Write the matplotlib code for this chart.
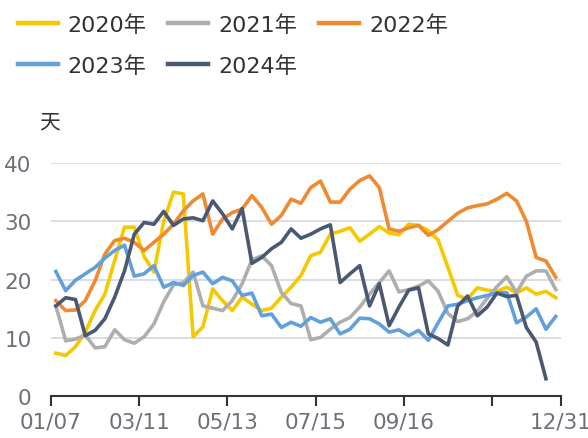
import numpy as np
import matplotlib
matplotlib.use("Agg")
import matplotlib.pyplot as plt

plt.rcParams['font.family'] = ['DejaVu Sans', 'Noto Sans CJK SC']

tick_labels = ['01/07', '03/11', '05/13', '07/15', '09/16', '', '12/31']
tick_idx = [0, 9, 18, 27, 36, 45, 52]

y2020 = [7.4, 7.0, 8.5, 11.0, 14.7, 17.5, 23.3, 29.0, 29.0, 24.0, 21.3, 30.0, 35.0, 34.7,
         10.2, 11.9, 18.4, 16.4, 14.7, 17.0, 15.8, 14.7, 15.1, 17.0, 18.7, 20.7, 24.1, 24.7,
         27.8, 28.3, 28.9, 26.6, 27.8, 29.1, 28.0, 27.7, 29.5, 29.3, 28.4, 26.8, 22.1, 17.3,
         16.7, 18.6, 18.2, 18.0, 18.7, 17.7, 18.6, 17.5, 18.0, 16.9]
y2021 = [15.5, 9.5, 9.8, 10.5, 8.3, 8.5, 11.4, 9.7, 9.1, 10.2, 12.4, 16.2, 19.1, 19.5,
         21.3, 15.5, 15.1, 14.7, 16.4, 19.3, 23.4, 24.1, 22.4, 17.8, 15.9, 15.5, 9.7, 10.1,
         11.5, 12.7, 13.5, 15.3, 17.5, 19.5, 21.5, 17.9, 18.3, 18.9, 19.8, 18.0, 14.2, 12.8,
         13.3, 14.6, 16.8, 18.8, 20.5, 17.8, 20.6, 21.5, 21.5, 18.3]
y2022 = [16.4, 14.7, 14.8, 16.4, 19.8, 24.4, 26.7, 27.1, 26.4, 25.0, 26.4, 27.8, 29.5, 31.8,
         33.5, 34.7, 27.8, 30.4, 31.5, 32.1, 34.4, 32.4, 29.5, 31.0, 33.8, 33.1, 35.8, 36.9,
         33.3, 33.3, 35.5, 37.0, 37.8, 35.8, 28.7, 28.3, 28.9, 29.3, 27.6, 28.6, 30.0, 31.4,
         32.3, 32.7, 33.0, 33.8, 34.8, 33.5, 30.0, 23.8, 23.2, 20.4]
y2023 = [21.4, 18.1, 19.9, 21.0, 22.1, 23.7, 25.0, 25.9, 20.6, 21.0, 22.4, 18.7, 19.5, 19.0,
         20.7, 21.3, 19.3, 20.4, 19.8, 17.3, 17.7, 13.8, 14.1, 11.8, 12.7, 12.0, 13.5, 12.7,
         13.3, 10.7, 11.5, 13.4, 13.3, 12.4, 11.0, 11.4, 10.4, 11.3, 9.6, 12.6, 15.5, 15.8,
         16.4, 16.9, 17.3, 17.7, 17.8, 12.6, 13.6, 15.0, 11.5, 13.7]
y2024 = [15.5, 16.9, 16.6, 10.4, 11.3, 13.3, 17.0, 21.5, 27.8, 29.8, 29.5, 31.7, 29.3, 30.4,
         30.6, 30.1, 33.5, 31.3, 28.7, 32.2, 22.8, 23.8, 25.3, 26.4, 28.7, 27.1, 27.8, 28.7,
         29.4, 19.5, 21.0, 22.4, 15.5, 19.3, 12.1, 15.3, 18.2, 18.6, 10.7, 9.9, 8.8, 15.5,
         17.2, 13.8, 15.3, 17.7, 17.1, 17.3, 11.8, 9.3, 3.0]

series = [('2020年', y2020, '#F5C800'),
          ('2021年', y2021, '#AEAEAE'),
          ('2022年', y2022, '#F08A30'),
          ('2023年', y2023, '#62A0DC'),
          ('2024年', y2024, '#4A5872')]

fig = plt.figure(figsize=(5.88, 4.39), dpi=100)
ax = fig.add_axes([0.0867, 0.095, 0.8668, 0.5314])

lines = {}
for name, vals, col in series:
    x = np.arange(len(vals)) + 0.5
    ln, = ax.plot(x, vals, color=col, lw=2.6, label=name)
    lines[name] = ln

ax.set_xlim(0, 52)
ax.set_ylim(0, 40)
ax.set_yticks([0, 10, 20, 30, 40])
ax.grid(axis='y', color='#D5D9E5', lw=1.3)
ax.set_axisbelow(True)
for s in ['left', 'right', 'top']:
    ax.spines[s].set_visible(False)
ax.spines['bottom'].set_color('#333333')
ax.spines['bottom'].set_linewidth(1.5)
ax.set_xticks(tick_idx)
ax.set_xticklabels(tick_labels)
ax.tick_params(axis='x', length=7, width=1.5, color='#333333', labelsize=15.5,
               labelcolor='#6E7079', pad=4)
ax.tick_params(axis='y', length=0, labelsize=15.5, labelcolor='#6E7079', pad=14)

fig.text(0.085, 0.722, '天', fontsize=15, color='#333333', ha='center', va='center',
         family=['Noto Sans CJK SC', 'DejaVu Sans'])

order = ['2020年', '2023年', '2021年', '2024年', '2022年']
leg = fig.legend([lines[k] for k in order], order, ncol=3, loc='upper left',
                 bbox_to_anchor=(-0.004, 1.012), frameon=False, fontsize=16,
                 handlelength=1.8, handletextpad=0.45, columnspacing=0.98,
                 labelspacing=0.92, labelcolor='#333333')
for h in leg.legend_handles:
    h.set_linewidth(3.2)

fig.savefig('out.png', dpi=100)
